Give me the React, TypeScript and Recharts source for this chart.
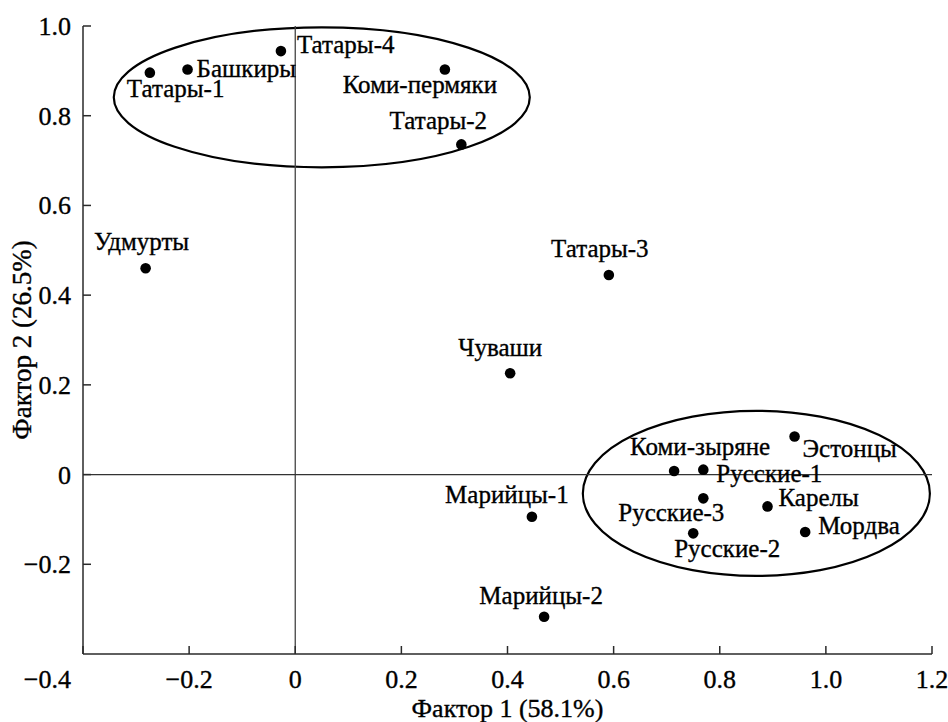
import { ScatterChart, Scatter, XAxis, YAxis, ReferenceLine, ReferenceArea } from "recharts";

const groups = [
  "Татары-1", "Башкиры", "Татары-4", "Коми-пермяки", "Татары-2", "Удмурты",
  "Татары-3", "Чуваши", "Коми-зыряне", "Русские-1", "Эстонцы", "Русские-3",
  "Карелы", "Русские-2", "Мордва", "Марийцы-1", "Марийцы-2",
];
const factor1 = [
  -0.274, -0.203, -0.027, 0.282, 0.313, -0.282,
  0.591, 0.405, 0.714, 0.769, 0.941, 0.769,
  0.89, 0.75, 0.961, 0.446, 0.469,
];
const factor2 = [
  0.896, 0.903, 0.944, 0.903, 0.736, 0.46,
  0.445, 0.226, 0.008, 0.011, 0.085, -0.053,
  -0.071, -0.131, -0.128, -0.094, -0.317,
];

const xTicks = [-0.4, -0.2, 0, 0.2, 0.4, 0.6, 0.8, 1.0, 1.2];
const yTicks = [-0.2, 0, 0.2, 0.4, 0.6, 0.8, 1.0];

// cluster ellipses (bounding boxes in factor units)
const clusterLeft = [-0.342, 0.542];
const clusterRight = [0.442, 1.196];
const clusterTop = [0.997, 0.142];
const clusterBottom = [0.685, -0.226];

// label placement relative to the dot
const labelPos: Record<string, [number, number, "start" | "middle" | "end"]> = {
  "Татары-1": [-23, 24, "start"],
  "Башкиры": [9, 7, "start"],
  "Татары-4": [16, 2, "start"],
  "Коми-пермяки": [-25, 23, "middle"],
  "Татары-2": [-23, -15, "middle"],
  "Удмурты": [-4, -18, "middle"],
  "Татары-3": [-9, -18, "middle"],
  "Чуваши": [-10, -17, "middle"],
  "Коми-зыряне": [26, -16, "middle"],
  "Русские-1": [13, 12, "start"],
  "Эстонцы": [8, 21, "start"],
  "Русские-3": [-32, 23, "middle"],
  "Карелы": [11, 0, "start"],
  "Русские-2": [34, 24, "middle"],
  "Мордва": [13, 2, "start"],
  "Марийцы-1": [-25, -14, "middle"],
  "Марийцы-2": [-3, -13, "middle"],
};

const points = groups.map((name, i) => ({ name, x: factor1[i], y: factor2[i] }));

const FONT = "Liberation Serif";
const AXIS = "#2a2a2a";
const ink = { fill: "#000", stroke: "#000", strokeWidth: 0.35 };

const fmt = (v: number) => {
  if (v === 0) return "0";
  const s = Math.abs(v).toFixed(1);
  return v < 0 ? "\u2212" + s : s;
};

const XTick = (props: any) => {
  const { x, y, payload } = props;
  const v = payload.value;
  const first = v === -0.4;
  return (
    <g>
      <line x1={x} x2={x} y1={y} y2={y - 8} stroke={AXIS} strokeWidth={1.5} />
      <text
        x={first ? x - 12 : x}
        y={y + 34}
        textAnchor={first ? "end" : "middle"}
        fontFamily={FONT}
        fontSize={26}
        {...ink}
      >
        {fmt(v)}
      </text>
    </g>
  );
};

const YTick = (props: any) => {
  const { x, y, payload } = props;
  return (
    <g>
      <line x1={x} x2={x + 8} y1={y} y2={y} stroke={AXIS} strokeWidth={1.5} />
      <text x={x - 12} y={y + 9} textAnchor="end" fontFamily={FONT} fontSize={26} {...ink}>
        {fmt(payload.value)}
      </text>
    </g>
  );
};

const Dot = (props: any) => {
  const { cx, cy, payload } = props;
  const [dx, dy, anchor] = labelPos[payload.name] || [8, 0, "start"];
  return (
    <g>
      <circle cx={cx} cy={cy} r={5.3} fill="#000" />
      <text x={cx + dx} y={cy + dy} textAnchor={anchor} fontFamily={FONT} fontSize={25} {...ink}>
        {payload.name}
      </text>
    </g>
  );
};

const Ellipse = (p: any) => (
  <ellipse
    cx={p.x + p.width / 2}
    cy={p.y + p.height / 2}
    rx={Math.abs(p.width) / 2}
    ry={Math.abs(p.height) / 2}
    fill="none"
    stroke="#000"
    strokeWidth={2.2}
  />
);

export default function App() {
  return (
    <div style={{ width: 948, height: 722, background: "#fff" }}>
      <style>{"body{margin:0}"}</style>
      <ScatterChart width={948} height={722} margin={{ top: 26, right: 16, bottom: 0, left: 0 }}>
        <XAxis
          type="number"
          dataKey="x"
          domain={[-0.4, 1.2]}
          ticks={xTicks}
          interval={0}
          height={68}
          tickSize={0}
          tickMargin={0}
          tickLine={false}
          axisLine={{ stroke: AXIS, strokeWidth: 1.5 }}
          tick={<XTick />}
          label={{
            content: (lp: any) => {
              const vb = lp.viewBox;
              return (
                <text x={vb.x + vb.width / 2} y={717} textAnchor="middle" fontFamily={FONT} fontSize={26} {...ink}>
                  Фактор 1 (58.1%)
                </text>
              );
            },
          }}
        />
        <YAxis
          type="number"
          dataKey="y"
          domain={[-0.4, 1.0]}
          ticks={yTicks}
          interval={0}
          width={83}
          tickSize={0}
          tickMargin={0}
          tickLine={false}
          axisLine={{ stroke: AXIS, strokeWidth: 1.5 }}
          tick={<YTick />}
          label={{
            content: (lp: any) => {
              const vb = lp.viewBox;
              const cy = vb.y + vb.height / 2;
              return (
                <text
                  x={31}
                  y={cy}
                  transform={`rotate(-90 31 ${cy})`}
                  textAnchor="middle"
                  fontFamily={FONT}
                  fontSize={27}
                  {...ink}
                >
                  Фактор 2 (26.5%)
                </text>
              );
            },
          }}
        />
        <ReferenceLine x={0} stroke="#444" strokeWidth={1.3} />
        <ReferenceLine y={0} stroke="#333" strokeWidth={1.3} />
        {clusterLeft.map((x1, i) => (
          <ReferenceArea
            key={i}
            x1={x1}
            x2={clusterRight[i]}
            y1={clusterBottom[i]}
            y2={clusterTop[i]}
            ifOverflow="visible"
            shape={<Ellipse />}
          />
        ))}
        <Scatter data={points} shape={<Dot />} isAnimationActive={false} />
      </ScatterChart>
    </div>
  );
}
